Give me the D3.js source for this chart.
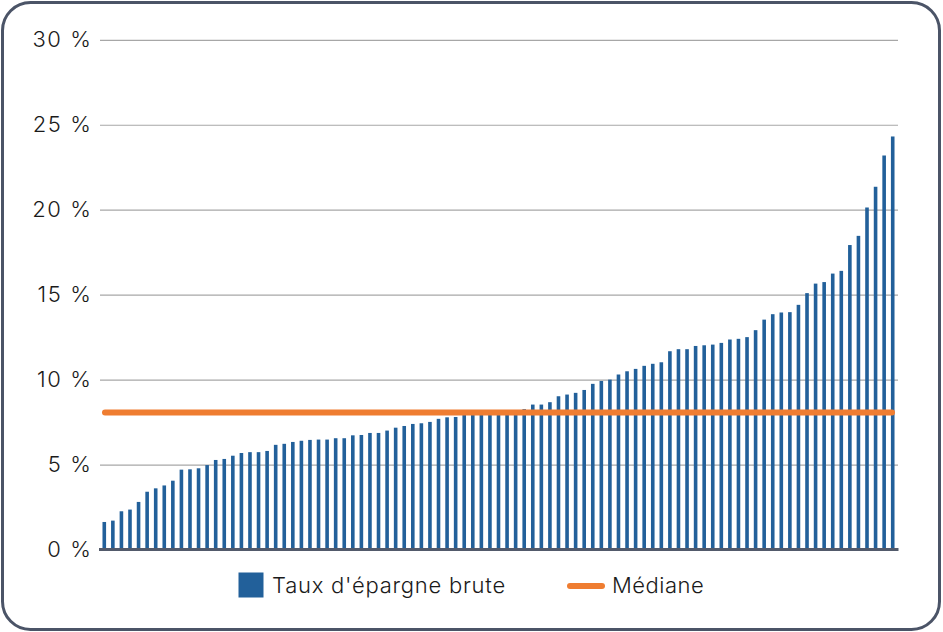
<!DOCTYPE html>
<html>
<head>
<meta charset="utf-8">
<script src="https://cdn.jsdelivr.net/npm/d3@7"></script>
<style>
  html, body { margin: 0; padding: 0; background: #ffffff; }
  svg { display: block; }
  text { font-family: Inter, "Noto Sans", sans-serif; fill: #1a1a1a; }
</style>
</head>
<body>
<svg id="chart" width="943" height="632"></svg>
<script>
// ---- Data ----
const seriesName = "Taux d'épargne brute";
const medianName = "Médiane";
const values = [
  1.62, 1.70, 2.25, 2.35, 2.80, 3.40, 3.60, 3.77, 4.05, 4.70,
  4.72, 4.78, 4.97, 5.27, 5.33, 5.52, 5.68, 5.73, 5.73, 5.80,
  6.16, 6.22, 6.33, 6.40, 6.45, 6.47, 6.47, 6.55, 6.55, 6.72,
  6.74, 6.86, 6.86, 7.00, 7.17, 7.27, 7.39, 7.43, 7.51, 7.69,
  7.78, 7.80, 7.92, 7.96, 8.00, 8.04, 8.07, 8.12, 8.18, 8.26,
  8.53, 8.53, 8.67, 9.02, 9.12, 9.22, 9.39, 9.75, 9.92, 10.00,
  10.30, 10.49, 10.63, 10.81, 10.93, 11.02, 11.67, 11.79, 11.79, 11.98,
  12.02, 12.06, 12.16, 12.36, 12.40, 12.50, 12.91, 13.53, 13.85, 13.95,
  13.97, 14.40, 15.09, 15.65, 15.74, 16.24, 16.40, 17.92, 18.46, 20.13,
  21.35, 23.19, 24.31
];
const categories = values.map((_, i) => i + 1);
const medianValue = 8.07;
const yTicks = [0, 5, 10, 15, 20, 25, 30];
const yTickLabels = ["0 %", "5 %", "10 %", "15 %", "20 %", "25 %", "30 %"];

// ---- Chart ----
const svg = d3.select("#chart");
const plot = { left: 100, right: 897, top: 39.8, bottom: 549.5 };

const barColor = "#22609a";
const medianColor = "#ef7d31";

// Frame
svg.append("rect")
  .attr("x", 2.5).attr("y", 2.5)
  .attr("width", 937).attr("height", 627)
  .attr("rx", 28).attr("ry", 28)
  .attr("fill", "#ffffff")
  .attr("stroke", "#4b5467")
  .attr("stroke-width", 3);

const x = d3.scaleBand()
  .domain(categories)
  .range([plot.left, plot.right])
  .paddingInner(0.58)
  .paddingOuter(0.29);

const y = d3.scaleLinear()
  .domain([0, 30])
  .range([plot.bottom, plot.top]);

// Gridlines + labels via axis
const yAxis = d3.axisLeft(y)
  .tickValues(yTicks)
  .tickSize(-(898 - plot.left))
  .tickPadding(10)
  .tickFormat((d, i) => yTickLabels[i]);

const gy = svg.append("g")
  .attr("transform", `translate(${plot.left},0)`)
  .call(yAxis);
gy.select(".domain").remove();
gy.selectAll(".tick line")
  .attr("stroke", "#a7a7a7")
  .attr("stroke-width", 1.2);
gy.selectAll(".tick text")
  .attr("font-size", 22)
  .attr("font-weight", 300)
  .attr("letter-spacing", 1.6)
  .attr("fill", "#1a1a1a")
  .attr("x", -7.5)
  .style("font-family", 'Inter, "Noto Sans", sans-serif');

// Bars
svg.append("g")
  .selectAll("rect")
  .data(values)
  .join("rect")
  .attr("x", (d, i) => x(categories[i]))
  .attr("y", d => y(d))
  .attr("width", x.bandwidth())
  .attr("height", d => y(0) - y(d))
  .attr("fill", barColor);

// Baseline
svg.append("line")
  .attr("x1", 99).attr("x2", 898.5)
  .attr("y1", y(0)).attr("y2", y(0))
  .attr("stroke", "#525a6b")
  .attr("stroke-width", 3);

// Median line
svg.append("line")
  .attr("x1", 105).attr("x2", 892)
  .attr("y1", y(medianValue)).attr("y2", y(medianValue))
  .attr("stroke", medianColor)
  .attr("stroke-width", 6)
  .attr("stroke-linecap", "round");

// Legend
const lg = svg.append("g");
lg.append("rect")
  .attr("x", 238.5).attr("y", 572.5)
  .attr("width", 25).attr("height", 25)
  .attr("fill", barColor);
lg.append("text")
  .attr("x", 272).attr("y", 593)
  .attr("font-size", 22)
  .attr("font-weight", 300)
  .attr("letter-spacing", 0.75)
  .text(seriesName);
lg.append("line")
  .attr("x1", 570).attr("x2", 602)
  .attr("y1", 586).attr("y2", 586)
  .attr("stroke", medianColor)
  .attr("stroke-width", 6)
  .attr("stroke-linecap", "round");
lg.append("text")
  .attr("x", 612).attr("y", 593)
  .attr("font-size", 22)
  .attr("font-weight", 300)
  .attr("letter-spacing", 0.5)
  .text(medianName);
</script>
</body>
</html>
